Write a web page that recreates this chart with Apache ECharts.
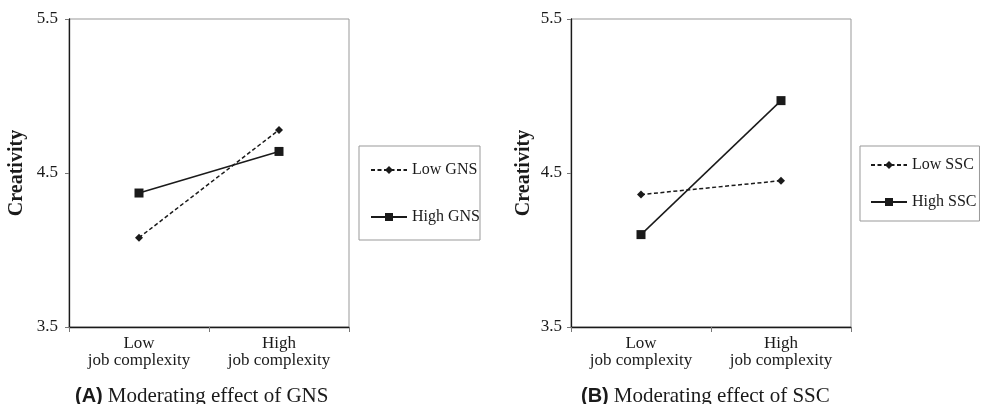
<!DOCTYPE html>
<html>
<head>
<meta charset="utf-8">
<script src="https://cdn.jsdelivr.net/npm/echarts@6/dist/echarts.min.js"></script>
<style>
html,body{margin:0;padding:0;background:#fff;}
#chart{width:985px;height:404px;}
</style>
</head>
<body>
<div id="chart"></div>
<script>
const categories = ['Low\njob complexity', 'High\njob complexity'];
const yTicks = [3.5, 4.5, 5.5];
const lowGNS = [4.08, 4.78];
const highGNS = [4.37, 4.64];
const lowSSC = [4.36, 4.45];
const highSSC = [4.10, 4.97];
const seriesNamesA = ['Low GNS', 'High GNS'];
const seriesNamesB = ['Low SSC', 'High SSC'];
const yTitle = 'Creativity';
const captionA = ['(A)', 'Moderating effect of GNS'];
const captionB = ['(B)', 'Moderating effect of SSC'];

const serif = '"Liberation Serif", "Times New Roman", serif';
const ink = '#1a1a1a';

function xAx(gi) {
  return {
    type: 'category', gridIndex: gi, data: categories, boundaryGap: true,
    axisLine: {lineStyle: {color: ink, width: 1.3}},
    axisTick: {show: true, length: 5, lineStyle: {color: '#777'}},
    axisLabel: {fontFamily: serif, fontSize: 17, color: ink, lineHeight: 17, margin: 8}
  };
}
function yAx(gi, gap, margin) {
  return {
    type: 'value', gridIndex: gi, min: 3.5, max: 5.5,
    name: yTitle, nameLocation: 'middle', nameRotate: 90, nameGap: gap,
    nameTextStyle: {fontFamily: serif, fontWeight: 'bold', fontSize: 20, color: ink},
    axisLine: {show: true, lineStyle: {color: ink, width: 1.3}},
    axisTick: {show: true, length: 4, customValues: yTicks, lineStyle: {color: '#777'}},
    axisLabel: {fontFamily: serif, fontSize: 17, color: ink, margin: margin, customValues: yTicks,
      formatter: v => v.toFixed(1)},
    splitLine: {show: false}
  };
}
function ser(name, data, gi, dashed, symbol, size) {
  return {
    name: name, type: 'line', xAxisIndex: gi, yAxisIndex: gi, data: data,
    symbol: symbol, symbolSize: size,
    lineStyle: {color: ink, width: 1.5, type: dashed ? [4, 2.5] : 'solid'},
    itemStyle: {color: ink},
    animation: false
  };
}
function legendCfg(names, left, padding, gap) {
  return {
    data: names, orient: 'vertical', left: left, top: 146,
    padding: padding, itemGap: gap, itemWidth: 36, itemHeight: 10,
    borderColor: '#999', borderWidth: 1, selectedMode: false,
    textStyle: {fontFamily: serif, fontSize: 16, color: ink, lineHeight: 16}
  };
}
function cap(parts, left) {
  return {
    text: '{b|' + parts[0] + '} {n|' + parts[1] + '}', left: left, top: 386, padding: 0,
    textStyle: {fontWeight: 'normal', rich: {
      b: {fontFamily: '"Liberation Sans", Arial, sans-serif', fontWeight: 'bold', fontSize: 20, color: ink},
      n: {fontFamily: serif, fontWeight: 'normal', fontSize: 21, color: ink}
    }}
  };
}

const chart = echarts.init(document.getElementById('chart'), null, {renderer: 'canvas'});
chart.setOption({
  backgroundColor: '#fff',
  animation: false,
  title: [cap(captionA, 75), cap(captionB, 581)],
  grid: [
    {left: 69, right: 636, top: 19, bottom: 77, show: true, borderColor: '#999', borderWidth: 1},
    {left: 571, right: 134, top: 19, bottom: 77, show: true, borderColor: '#999', borderWidth: 1}
  ],
  xAxis: [xAx(0), xAx(1)],
  yAxis: [yAx(0, 42, 11), yAx(1, 37, 9)],
  legend: [
    legendCfg(seriesNamesA, 359, [16, 0, 15, 11], 31),
    legendCfg(seriesNamesB, 860, [11, 3, 11, 10], 21)
  ],
  series: [
    ser(seriesNamesA[0], lowGNS, 0, true, 'diamond', 8),
    ser(seriesNamesA[1], highGNS, 0, false, 'rect', 9),
    ser(seriesNamesB[0], lowSSC, 1, true, 'diamond', 8),
    ser(seriesNamesB[1], highSSC, 1, false, 'rect', 9)
  ]
});
</script>
</body>
</html>
